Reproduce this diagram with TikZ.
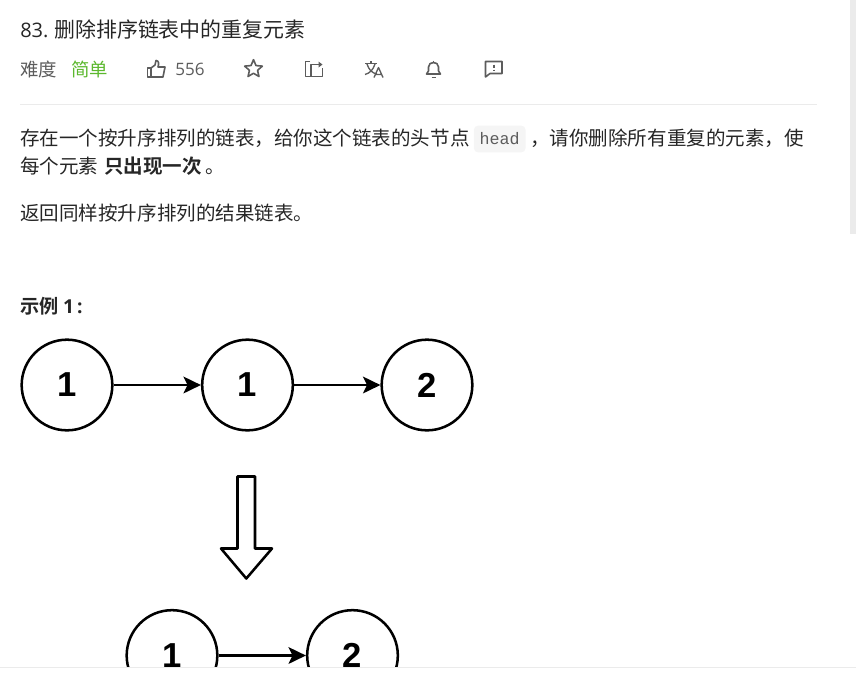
\documentclass[tikz,border=0pt]{standalone}
\usepackage{fontspec}
\setmainfont{Open Sans}
\newfontfamily\cjkfont{Noto Sans CJK SC}
\newfontfamily\cjkbold{Noto Sans CJK SC Bold}
\newfontfamily\codefont{Liberation Mono}
\newfontfamily\digitfont{Liberation Sans Bold}
\usetikzlibrary{
    arrows.meta,           % Modern arrow tips
    shapes.geometric       % Geometric shapes
}
\definecolor{titleink}{HTML}{262626}
\definecolor{metaink}{HTML}{5C5C5C}
\definecolor{easygreen}{HTML}{5CB82E}
\definecolor{ruleline}{HTML}{EBEBEB}
\definecolor{codefill}{HTML}{F5F5F5}
\begin{document}
\begin{tikzpicture}[x=0.75pt,y=-0.75pt,
    txt/.style={inner sep=0pt,anchor=base west,text=titleink,font=\cjkfont\fontsize{14.65}{18}\selectfont},
    meta/.style={txt,text=metaink,font=\cjkfont\fontsize{13.8}{17}\selectfont},
    listnode/.style={circle,draw=black,line width=1.9pt,minimum size=68pt,inner sep=0pt,font=\digitfont\fontsize{26}{26}\selectfont},
    link/.style={line width=1.8pt,-{Stealth[length=13pt,width=12.5pt,inset=3pt]}},
    icon/.style={draw=metaink,line width=1.2pt,line join=round}
]
    \useasboundingbox (0,0) rectangle (856,672);
    \fill[ruleline] (850,0) rectangle (856,234);
    \fill[ruleline] (20,104) rectangle (817,105);

    \node[txt,font=\fontsize{15}{18}\selectfont] (num) at (20,37) {83.};
    \node[txt,font=\cjkfont\fontsize{15.7}{18}\selectfont] (title) at (54,37) {删除排序链表中的重复元素};
    \node[meta] (level) at (20,76) {难度};
    \node[meta,text=easygreen] (easy) at (71,76) {简单};
    \node[meta,font=\fontsize{12.8}{16}\selectfont] (likes) at (175,75) {556};

    % like
    \draw[icon] (147.5,68) -- (151,68) -- (151,77) -- (147.5,77) -- cycle;
    \draw[icon] (151,68) -- (155,65) -- (156,60.5) .. controls (159,60.5) and (159,64) .. (158,67) -- (165,67) -- (163,77) -- (151,77);
    % star
    \node[star,star points=5,star point ratio=2.2,icon,minimum size=14pt,inner sep=0pt] (fav) at (253.5,69) {};
    % share
    \draw[icon] (310,61.5) -- (305.5,61.5) -- (305.5,76.5) -- (322.5,76.5) -- (322.5,68);
    \draw[icon,line width=1pt] (311,76) -- (311,64.5) -- (320,64.5);
    \fill[metaink] (322.5,64.5) -- (318.5,61.5) -- (318.5,67.5) -- cycle;
    % translate
    \draw[icon,line width=1pt] (365,63.5) -- (377,63.5) (371,61) -- (371,63.5);
    \draw[icon,line width=1pt] (367,64) .. controls (369,70) and (372,73) .. (377,74);
    \draw[icon,line width=1pt] (375,64) .. controls (373,70) and (370,73) .. (365,74.5);
    \draw[icon,line width=1pt] (374,77.5) -- (378.5,67.5) -- (383,77.5) (375.5,74.5) -- (381.5,74.5);
    % bell
    \draw[icon] (426.5,74) -- (428.5,71) -- (428.5,67) .. controls (428.5,61) and (438.5,61) .. (438.5,67) -- (438.5,71) -- (440.5,74) -- cycle;
    \draw[icon] (433.5,60.5) -- (433.5,62.5);
    \draw[icon] (431.5,77.5) -- (435.5,77.5);
    % feedback
    \draw[icon] (485.5,61.5) -- (502,61.5) -- (502,73.5) -- (490,73.5) -- (485.5,77) -- cycle;
    \draw[icon] (493.7,64.5) -- (493.7,68) (493.7,69.5) -- (493.7,71);

    \node[txt] (lineone) at (20,145) {存在一个按升序排列的链表，给你这个链表的头节点};
    \node[fill=codefill,rounded corners=3pt,minimum width=38.7pt,minimum height=20pt,inner sep=0pt,text=metaink,font=\codefont\fontsize{12.5}{15}\selectfont] (head) at (499.7,139) {head};
    \node[txt] (linetwo) at (530,145) {，请你删除所有重复的元素，使};
    \node[txt] (each) at (20,173.5) {每个元素};
    \node[txt,font=\cjkbold\fontsize{14.65}{18}\selectfont] (once) at (104,173.5) {只出现一次};
    \node[txt] (stop) at (205,173.5) {。};
    \node[txt] (result) at (20,220) {返回同样按升序排列的结果链表。};
    \node[txt,font=\cjkbold\fontsize{14.4}{17}\selectfont] (example) at (20,313) {示例 \fontspec{Open Sans Bold}\fontsize{14.4}{17}\selectfont 1\,:};

    \node[listnode] (a) at (67,385) {1};
    \node[listnode] (b) at (247.5,385) {1};
    \node[listnode] (c) at (427,385) {2};
    \draw[link] (a) -- (b);
    \draw[link] (b) -- (c);

    \draw[line width=1.9pt,line join=round] (237.5,476.5) -- (255,476.5) -- (255,548.5) -- (272,548.5) -- (246.3,578.5) -- (221,548.5) -- (237.5,548.5) -- cycle;

    \begin{scope}
        \clip (0,0) rectangle (856,667);
        \node[listnode] (d) at (172,655.5) {1};
        \node[listnode] (e) at (352.5,655.5) {2};
        \draw[link] (d) -- (e);
    \end{scope}
    \fill[ruleline] (0,667) rectangle (856,668);
\end{tikzpicture}
\end{document}
